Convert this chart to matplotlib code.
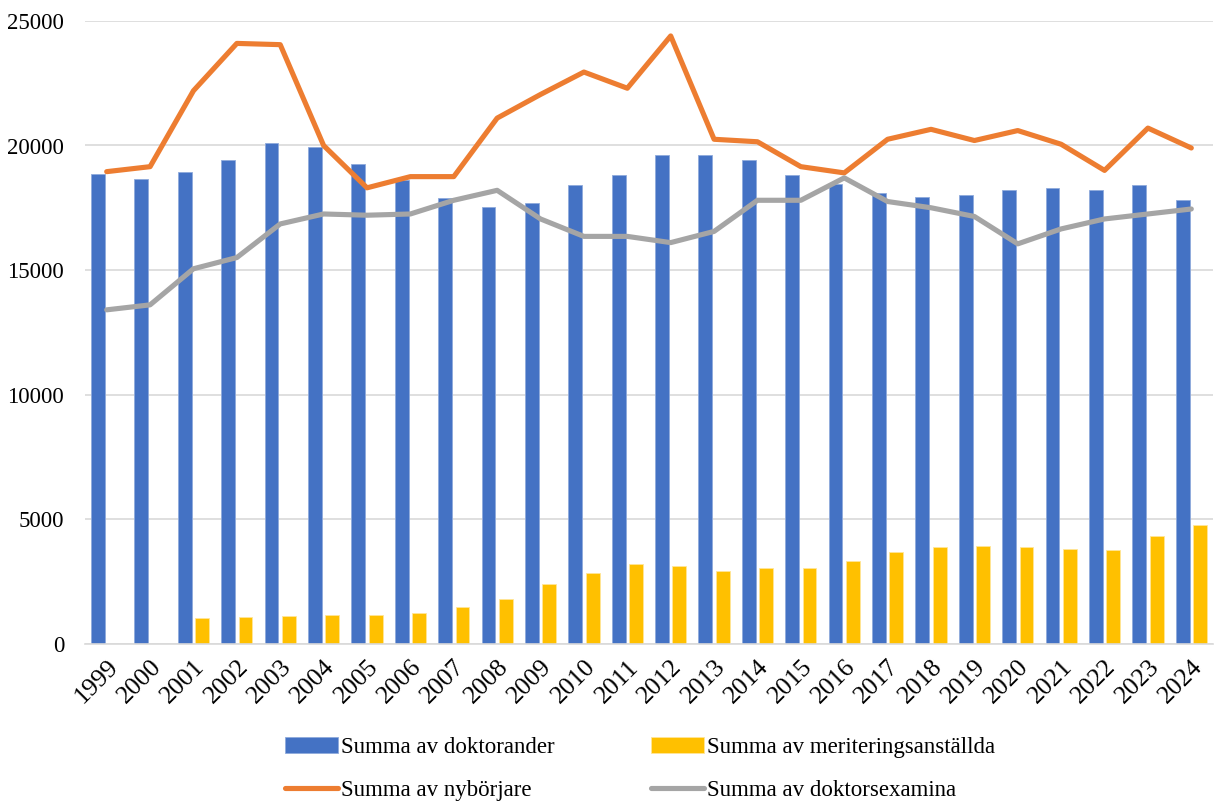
import matplotlib
matplotlib.use("Agg")
import matplotlib.pyplot as plt
import numpy as np

plt.rcParams['font.family'] = ['Liberation Serif', 'DejaVu Serif']

years = [str(y) for y in range(1999, 2025)]
doktorander = [18850, 18650, 18950, 19400, 20100, 19950, 19250, 18600, 17900, 17550,
               17700, 18400, 18800, 19600, 19600, 19400, 18800, 18450, 18100, 17950,
               18000, 18200, 18300, 18200, 18400, 17800]
meritering = [np.nan, np.nan, 1030, 1050, 1100, 1130, 1160, 1230, 1480, 1790,
              2380, 2820, 3180, 3100, 2900, 3050, 3050, 3300, 3660, 3890,
              3920, 3890, 3800, 3750, 4330, 4760]
nyborjare = [18950, 19150, 22200, 24100, 24050, 20000, 18300, 18750, 18750, 21100,
             22050, 22950, 22300, 24400, 20250, 20150, 19150, 18900, 20250, 20650,
             20200, 20600, 20050, 19000, 20700, 19900]
examina = [13400, 13600, 15050, 15500, 16850, 17250, 17200, 17250, 17800, 18200,
           17050, 16350, 16350, 16100, 16550, 17800, 17800, 18700, 17750, 17500,
           17150, 16050, 16650, 17050, 17250, 17450]
yticks = [0, 5000, 10000, 15000, 20000, 25000]

labels = ["Summa av doktorander", "Summa av meriteringsanställda",
          "Summa av nybörjare", "Summa av doktorsexamina"]
c_blue, c_yellow, c_orange, c_gray = "#4472C4", "#FFC000", "#ED7D31", "#A5A5A5"

fig = plt.figure(figsize=(12.19, 8.05), dpi=100)
ax = fig.add_axes([85/1219, 1-643.5/805, (1213-85)/1219, (643.5-21)/805])

x = np.arange(len(years))
w = 0.32
b1 = ax.bar(x - 0.2, doktorander, width=w, color=c_blue, edgecolor="#8FAADC", linewidth=0.6, zorder=2)
b2 = ax.bar(x + 0.2, meritering, width=w, color=c_yellow, edgecolor="#FFE699", linewidth=0.6, zorder=2)
l1, = ax.plot(x, nyborjare, color=c_orange, linewidth=3.7, solid_capstyle='round',
              solid_joinstyle='round', zorder=3)
l2, = ax.plot(x, examina, color=c_gray, linewidth=3.7, solid_capstyle='round',
              solid_joinstyle='round', zorder=3)

ax.set_xlim(-0.5, len(years) - 0.5)
ax.set_ylim(0, 25000)
ax.set_yticks(yticks)
ax.set_yticklabels([str(v) for v in yticks], fontsize=16.5)
ax.yaxis.grid(True, color="#D9D9D9", linewidth=1.2, zorder=0)
ax.set_axisbelow(True)
ax.tick_params(axis='y', length=0, pad=15)
ax.tick_params(axis='x', length=0, pad=9)
ax.set_xticks(x)
ax.set_xticklabels(years, fontsize=18.5, rotation=45, ha='right', va='top',
                   rotation_mode='anchor')
for s in ['top', 'right', 'left']:
    ax.spines[s].set_visible(False)
ax.spines['bottom'].set_color("#D9D9D9")
ax.spines['bottom'].set_linewidth(1.2)

fig.legend([b1, l1, b2, l2], [labels[0], labels[2], labels[1], labels[3]],
           ncol=2, loc='center', bbox_to_anchor=(0.525, 0.0445), frameon=False,
           fontsize=16.5, handlelength=2.3, handletextpad=0.15, columnspacing=4.2,
           labelspacing=0.95, borderpad=0)

fig.savefig("out.png", dpi=100)
